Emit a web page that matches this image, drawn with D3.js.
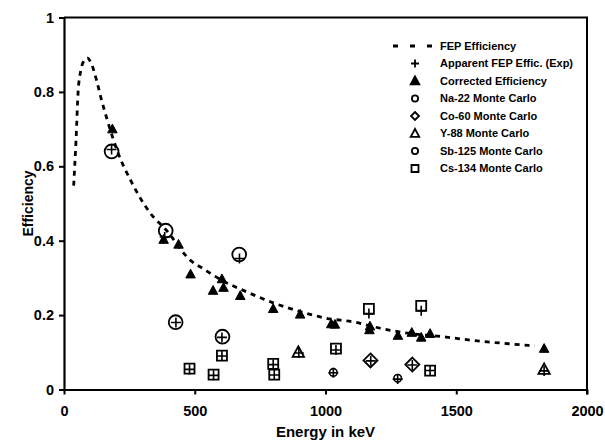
<!DOCTYPE html>
<html>
<head>
<meta charset="utf-8">
<script src="https://cdn.jsdelivr.net/npm/d3@7"></script>
<style>
  body { margin: 0; background: #fff; }
  svg text { font-family: "Liberation Sans", Arial, sans-serif; font-weight: bold; fill: #000; }
</style>
</head>
<body>
<div id="chart"></div>
<script>
// FEP efficiency curve: [energy keV, efficiency]
const fepCurve = [
  [37, 0.548], [46, 0.67], [54, 0.80], [65, 0.86], [78, 0.885], [90, 0.891],
  [105, 0.875], [125, 0.83], [141, 0.785], [166, 0.723], [210, 0.63],
  [255, 0.562], [331, 0.473], [389, 0.430], [484, 0.347], [534, 0.324],
  [600, 0.295], [700, 0.262], [800, 0.233], [900, 0.21], [1000, 0.192],
  [1112, 0.181], [1213, 0.164], [1300, 0.153], [1461, 0.141], [1562, 0.132],
  [1700, 0.123], [1800, 0.117]
];

// Apparent FEP efficiency (experimental) crosses
const apparentExp = [
  [182, 0.645], [385, 0.41], [428, 0.18], [604, 0.14], [671, 0.352],
  [1030, 0.045], [1276, 0.028], [1173, 0.077], [1332, 0.066],
  [898, 0.098], [1836, 0.05],
  [480, 0.054], [572, 0.038], [604, 0.09], [800, 0.067], [804, 0.039],
  [1040, 0.106], [1166, 0.204], [1366, 0.212], [1400, 0.051]
];

// Corrected efficiency (filled triangles)
const corrected = [
  [185, 0.70], [381, 0.403], [438, 0.39], [484, 0.31], [570, 0.266],
  [604, 0.297], [610, 0.274], [674, 0.252], [800, 0.217], [903, 0.202],
  [1022, 0.176], [1036, 0.175], [1170, 0.17], [1168, 0.16], [1277, 0.145],
  [1330, 0.153], [1366, 0.14], [1400, 0.15], [1836, 0.11]
];

// Monte Carlo points per source
const na22MC = [[1030, 0.046], [1276, 0.03]];
const co60MC = [[1172, 0.078], [1332, 0.067]];
const y88MC = [[896, 0.10], [1836, 0.054]];
const sb125MC = [[182, 0.64], [389, 0.427], [427, 0.181], [606, 0.142], [670, 0.363]];
const cs134MC = [
  [480, 0.056], [572, 0.04], [604, 0.091], [800, 0.069], [804, 0.04],
  [1040, 0.11], [1166, 0.217], [1366, 0.225], [1400, 0.051]
];

const legendLabels = [
  "FEP Efficiency", "Apparent FEP Effic. (Exp)", "Corrected Efficiency",
  "Na-22 Monte Carlo", "Co-60 Monte Carlo", "Y-88 Monte Carlo",
  "Sb-125 Monte Carlo", "Cs-134 Monte Carlo"
];
const xTicks = [0, 500, 1000, 1500, 2000];
const yTicks = [0, 0.2, 0.4, 0.6, 0.8, 1];

const W = 605, H = 443;
const plotL = 64, plotR = 587, plotT = 17.5, plotB = 389.5;

const svg = d3.select("#chart").append("svg")
  .attr("width", W).attr("height", H);

const x = d3.scaleLinear().domain([0, 2000]).range([plotL, plotR]);
const y = d3.scaleLinear().domain([0, 1]).range([plotB, plotT]);

// frame: top and right
svg.append("path")
  .attr("d", `M${plotL},${plotT}H${plotR}V${plotB + 5}`)
  .attr("fill", "none").attr("stroke", "#000").attr("stroke-width", 2);

const xAxis = svg.append("g")
  .attr("transform", `translate(0,${plotB})`)
  .call(d3.axisBottom(x).tickValues(xTicks).tickSize(5).tickSizeOuter(0).tickFormat(d3.format("d")));
const yAxis = svg.append("g")
  .attr("transform", `translate(${plotL},0)`)
  .call(d3.axisLeft(y).tickValues(yTicks).tickSize(5).tickSizeOuter(0).tickFormat(d => String(+d.toFixed(1))));

[xAxis, yAxis].forEach(g => {
  g.select(".domain").attr("stroke-width", 2.2);
  g.selectAll(".tick line").attr("stroke-width", 2);
  g.selectAll(".tick text").style("font-size", "14.5px").style("font-family", "Liberation Sans, Arial, sans-serif").style("font-weight", "bold");
});
xAxis.selectAll(".tick text").attr("dy", "1.25em");
yAxis.selectAll(".tick text").attr("x", -10);

svg.append("text")
  .attr("x", (plotL + plotR) / 2).attr("y", 437)
  .attr("text-anchor", "middle").style("font-size", "15px")
  .text("Energy in keV");

svg.append("text")
  .attr("transform", `translate(33,${(plotT + plotB) / 2}) rotate(-90)`)
  .attr("text-anchor", "middle").style("font-size", "14px")
  .text("Efficiency");

// FEP curve
const line = d3.line()
  .x(d => x(d[0])).y(d => y(d[1]))
  .curve(d3.curveMonotoneX);

svg.append("path")
  .datum(fepCurve)
  .attr("d", line)
  .attr("fill", "none").attr("stroke", "#000")
  .attr("stroke-width", 2.8).attr("stroke-dasharray", "5,5");

// marker shapes
function plusPath(s) {
  const p = d3.path();
  p.moveTo(-s, 0); p.lineTo(s, 0);
  p.moveTo(0, -s); p.lineTo(0, s);
  return p.toString();
}
function squarePath(s) {
  return `M${-s},${-s}H${s}V${s}H${-s}Z`;
}
function diamondPath(s) {
  return `M0,${-s}L${s},0L0,${s}L${-s},0Z`;
}
function trianglePath(s) {
  return `M0,${-s}L${s * 0.95},${s * 0.75}L${-s * 0.95},${s * 0.75}Z`;
}

function drawMarks(data, pathFn, filled, sw) {
  svg.append("g").selectAll("path")
    .data(data).join("path")
    .attr("transform", d => `translate(${x(d[0])},${y(d[1])})`)
    .attr("d", pathFn)
    .attr("fill", filled ? "#000" : "none")
    .attr("stroke", "#000")
    .attr("stroke-width", sw);
}

drawMarks(na22MC, () => d3.symbol(d3.symbolCircle, 45)(), false, 1.6);
drawMarks(sb125MC, () => d3.symbol(d3.symbolCircle, 150)(), false, 1.8);
drawMarks(co60MC, () => diamondPath(7), false, 1.8);
drawMarks(y88MC, () => trianglePath(6), false, 1.8);
drawMarks(cs134MC, () => squarePath(5), false, 1.8);
drawMarks(corrected, () => trianglePath(5), true, 1);
drawMarks(apparentExp, () => plusPath(5), false, 1.6);

// legend
const legend = svg.append("g");
const rowY = i => 46 + i * 17.5;
const symX = 415;
legend.append("line")
  .attr("x1", 393).attr("x2", 433).attr("y1", rowY(0)).attr("y2", rowY(0))
  .attr("stroke", "#000").attr("stroke-width", 3).attr("stroke-dasharray", "5,12");
const legendShapes = [
  null,
  [plusPath(4), false],
  [trianglePath(4.5), true],
  [d3.symbol(d3.symbolCircle, 30)(), false],
  [diamondPath(4), false],
  [trianglePath(4.5), false],
  [d3.symbol(d3.symbolCircle, 30)(), false],
  [squarePath(3.5), false]
];
legendShapes.forEach((s, i) => {
  if (!s) return;
  legend.append("path")
    .attr("transform", `translate(${symX},${rowY(i)})`)
    .attr("d", s[0])
    .attr("fill", s[1] ? "#000" : "none")
    .attr("stroke", "#000").attr("stroke-width", 1.8);
});
legend.selectAll("text")
  .data(legendLabels).join("text")
  .attr("x", 440).attr("y", (d, i) => rowY(i))
  .attr("dy", "0.35em")
  .style("font-size", "11px")
  .text(d => d);
</script>
</body>
</html>
